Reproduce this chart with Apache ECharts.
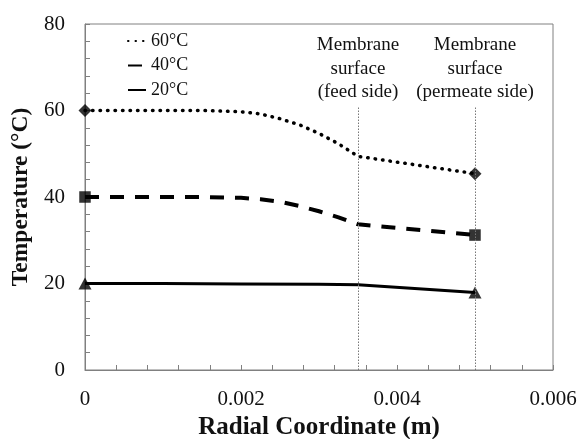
<!DOCTYPE html>
<html>
<head>
<meta charset="utf-8">
<script src="https://cdn.jsdelivr.net/npm/echarts@6/dist/echarts.min.js"></script>
<style>
  html, body { margin: 0; padding: 0; background: #fff; }
  #chart { width: 580px; height: 439px; }
</style>
</head>
<body>
<div id="chart"></div>
<script>
// Radial coordinate (m) and temperature (°C) for each feed temperature
const r60 = [0, 0.0005, 0.001, 0.0015, 0.002, 0.00225, 0.0025, 0.00275, 0.003, 0.00325, 0.0035, 0.005];
const t60 = [60, 60, 60, 60, 59.7, 59.2, 58.1, 56.7, 54.7, 52.3, 49.4, 45.4];

const r40 = [0, 0.0005, 0.001, 0.0015, 0.002, 0.00225, 0.0025, 0.00275, 0.003, 0.00325, 0.0035, 0.005];
const t40 = [40, 40, 40, 40, 39.8, 39.5, 38.9, 37.9, 36.7, 35.3, 33.7, 31.2];

const r20 = [0, 0.001, 0.002, 0.003, 0.0035, 0.005];
const t20 = [20, 20, 19.9, 19.8, 19.7, 17.9];

const seriesNames = ['60°C', '40°C', '20°C'];
const markerShapes = ['diamond', 'rect', 'triangle'];

// Membrane surfaces: feed side and permeate side
const surfaceX = [0.0035, 0.005];
const surfaceLabels = ['Membrane\nsurface\n(feed side)', 'Membrane\nsurface\n(permeate side)'];
const surfaceTop = 61;

const xTicks = [0, 0.002, 0.004, 0.006];

const FONT = '"Liberation Serif", "Times New Roman", serif';

function pairs(xs, ys) { return xs.map((x, i) => [x, ys[i]]); }
function ends(xs, ys) { return [[xs[0], ys[0]], [xs[xs.length - 1], ys[ys.length - 1]]]; }

const lineStyles = [
  { type: [0.5, 7], cap: 'round', width: 3.5 },
  { type: [14, 11], cap: 'butt', width: 4 },
  { type: 'solid', width: 3 }
];
const allR = [r60, r40, r20];
const allT = [t60, t40, t20];

const series = [];
seriesNames.forEach((name, i) => {
  series.push({
    name: name,
    type: 'line',
    data: pairs(allR[i], allT[i]),
    symbol: 'none',
    clip: false,
    lineStyle: Object.assign({ color: '#000' }, lineStyles[i]),
    itemStyle: { color: '#000' },
    z: 3
  });
});
seriesNames.forEach((name, i) => {
  series.push({
    name: name + ' ends',
    type: 'scatter',
    data: ends(allR[i], allT[i]),
    symbol: markerShapes[i],
    symbolSize: markerShapes[i] === 'triangle' ? [13, 12] : (markerShapes[i] === 'rect' ? 11.5 : 13),
    itemStyle: { color: '#000' },
    clip: false,
    z: 4
  });
});

// Dotted vertical markers at the membrane surfaces with their captions
series.push({
  name: 'surfaces',
  type: 'line',
  data: [],
  markLine: {
    silent: true,
    symbol: 'none',
    animation: false,
    lineStyle: { color: '#777', type: [1.5, 1.5], width: 1 },
    label: {
      show: true,
      position: 'end',
      fontFamily: FONT,
      fontSize: 19,
      lineHeight: 23.5,
      color: '#111',
      align: 'center',
      distance: 2
    },
    data: surfaceX.map((x, i) => [
      { coord: [x, 0] },
      { coord: [x, surfaceTop], label: { formatter: surfaceLabels[i] } }
    ])
  }
});

const chart = echarts.init(document.getElementById('chart'), null, { renderer: 'canvas' });
chart.setOption({
  animation: false,
  backgroundColor: '#fff',
  grid: {
    left: 85, right: 27, top: 24, bottom: 69,
    outerBoundsMode: 'none',
    containLabel: false,
    show: true, borderColor: '#808080', borderWidth: 1
  },
  legend: {
    data: seriesNames,
    orient: 'vertical',
    left: 127, top: 32,
    padding: 0,
    itemWidth: 18, itemHeight: 14, itemGap: 6.5,
    itemStyle: { opacity: 0 },
    textStyle: { fontFamily: FONT, fontSize: 18, color: '#111', lineHeight: 18 },
    selectedMode: false
  },
  xAxis: {
    type: 'value',
    min: 0, max: 0.006, interval: 0.002,
    name: 'Radial Coordinate (m)',
    nameLocation: 'middle',
    nameGap: 31,
    nameTextStyle: { fontFamily: FONT, fontSize: 25, fontWeight: 'bold', color: '#111' },
    axisLine: { show: true, lineStyle: { color: '#808080' } },
    axisTick: { show: true, inside: true, length: 5, lineStyle: { color: '#808080' } },
    minorTick: { show: true, splitNumber: 5, length: 5, lineStyle: { color: '#808080' } },
    splitLine: { show: false },
    axisLabel: {
      fontFamily: FONT, fontSize: 21, color: '#111', margin: 19,
      formatter: v => (xTicks.indexOf(v) >= 0 ? (v === 0 ? '0' : v.toFixed(3)) : '')
    }
  },
  yAxis: {
    type: 'value',
    min: 0, max: 80, interval: 20,
    name: 'Temperature (°C)',
    nameLocation: 'middle',
    nameGap: 49,
    nameTextStyle: { fontFamily: FONT, fontSize: 23.5, fontWeight: 'bold', color: '#111' },
    axisLine: { show: true, lineStyle: { color: '#808080' } },
    axisTick: { show: true, inside: true, length: 5, lineStyle: { color: '#808080' } },
    minorTick: { show: true, splitNumber: 5, length: 5, lineStyle: { color: '#808080' } },
    splitLine: { show: false },
    axisLabel: { fontFamily: FONT, fontSize: 21, color: '#111', margin: 20 }
  },
  series: series
});
</script>
</body>
</html>
